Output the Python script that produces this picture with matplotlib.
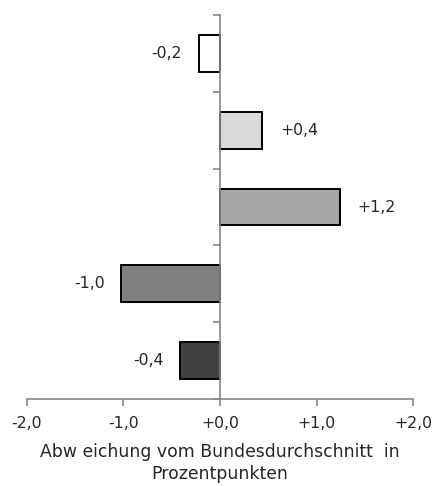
import numpy as np
import matplotlib
matplotlib.use("Agg")
import matplotlib.pyplot as plt

# Abweichung vom Bundesdurchschnitt, von oben nach unten
werte = [-0.22, 0.44, 1.24, -1.02, -0.41]
farben = ["#ffffff", "#d9d9d9", "#a6a6a6", "#808080", "#404040"]
xticks = [-2.0, -1.0, 0.0, 1.0, 2.0]
xlabels = ["-2,0", "-1,0", "+0,0", "+1,0", "+2,0"]
xtitel = "Abw eichung vom Bundesdurchschnitt  in\nProzentpunkten"

plt.rcParams['font.family'] = ['DejaVu Sans']
textfarbe = "#262626"
achsenfarbe = "#868686"

fig = plt.figure(figsize=(4.33, 4.86), dpi=100)
ax = fig.add_axes([0.062, 0.179, 0.892, 0.79])

n = len(werte)
ypos = np.arange(n)[::-1]
ax.barh(ypos, werte, height=0.48, color=farben, edgecolor="black", linewidth=1.4, zorder=3)

for y, v in zip(ypos, werte):
    txt = f"{v:+.1f}".replace(".", ",")
    if v < 0:
        ax.annotate(txt, (v, y), xytext=(-12, 0), textcoords="offset points",
                    ha="right", va="center", fontsize=11.3, color=textfarbe)
    else:
        ax.annotate(txt, (v, y), xytext=(13, 0), textcoords="offset points",
                    ha="left", va="center", fontsize=11.3, color=textfarbe)

ax.set_xlim(-2.0, 2.0)
ax.set_ylim(-0.5, n - 0.5)
ax.set_xticks(xticks)
ax.set_xticklabels(xlabels, fontsize=11.3, color=textfarbe)
ax.set_yticks(np.arange(n + 1) - 0.5)
ax.set_yticklabels([])

ax.spines['top'].set_visible(False)
ax.spines['right'].set_visible(False)
ax.spines['left'].set_position(('data', 0))
ax.spines['left'].set_color(achsenfarbe)
ax.spines['bottom'].set_color(achsenfarbe)
ax.spines['left'].set_linewidth(1.2)
ax.spines['bottom'].set_linewidth(1.2)
ax.spines['left'].set_zorder(4)
ax.tick_params(axis='x', direction='out', length=5, width=1.2, color=achsenfarbe, pad=7)
ax.tick_params(axis='y', direction='out', length=5, width=1.2, color=achsenfarbe)

ax.set_xlabel(xtitel, fontsize=12.4, color=textfarbe, labelpad=9, linespacing=1.3)

plt.savefig("out.png", dpi=100)
